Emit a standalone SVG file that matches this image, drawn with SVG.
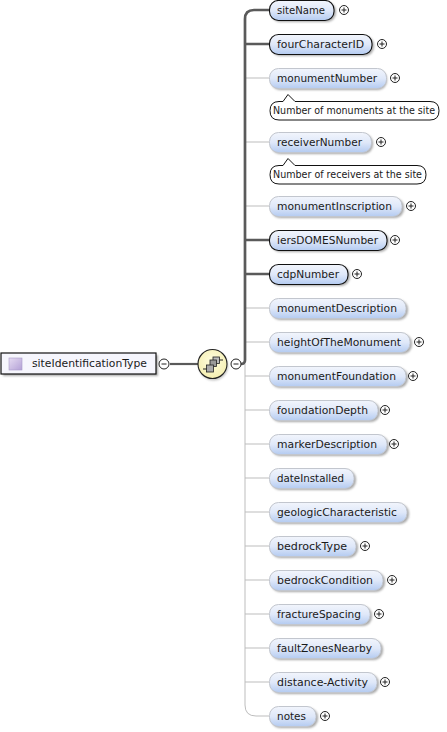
<svg xmlns="http://www.w3.org/2000/svg" width="447" height="732" viewBox="0 0 447 732">
<style>
text{font-family:"DejaVu Sans","Liberation Sans",sans-serif;font-size:11px;fill:#1a1a1a}
.req,.opt{fill:url(#blue)}
.req{stroke:#111;stroke-width:1.1}
.opt{stroke:#c2c6ce;stroke-width:1}
.sh{fill:#6f6f6f;opacity:.6;filter:url(#blur)}
.thin{fill:none;stroke:#bdbdbd;stroke-width:1}
.thick{fill:none;stroke:#5a5a5a;stroke-width:2.7}
.pm circle{fill:#fff;stroke:#222;stroke-width:1}
.pm path{stroke:#222;stroke-width:1;fill:none}
.note{fill:#fff;stroke:#111;stroke-width:1}
</style>
<defs>
<linearGradient id="blue" x1="0" y1="0" x2="0" y2="1"><stop offset="0" stop-color="#f2f5fc"/><stop offset="0.5" stop-color="#dfe8f9"/><stop offset="1" stop-color="#b4cbf1"/></linearGradient>
<linearGradient id="pur" x1="0" y1="0" x2="1" y2="1"><stop offset="0" stop-color="#e6dcf2"/><stop offset="1" stop-color="#b3a0d6"/></linearGradient>
<radialGradient id="yel" cx="0.5" cy="0.4" r="0.6"><stop offset="0" stop-color="#fffde0"/><stop offset="1" stop-color="#f4eeb0"/></radialGradient>
<filter id="blur" x="-10%" y="-30%" width="120%" height="160%"><feGaussianBlur stdDeviation="1"/></filter>
<g id="plus" class="pm"><circle r="4.5"/><path d="M-2.500 0H2.500M0 -2.500V2.500"/></g>
<g id="minus" class="pm"><circle r="5"/><path d="M-2.500 0H2.500"/></g>
</defs>

<g id="connectors">
<path class="thin" d="M245 364V705Q245 716 256 716H269M245 308H269M245 342H269M245 376H269M245 410H269M245 444H269M245 478H269M245 512H269M245 546H269M245 580H269M245 614H269M245 648H269M245 682H269M245 78H269M245 142H269M245 206H269"/>
<path class="thick" d="M269 10H254Q245 10 245 19V360Q245 364 241 364"/>
<path class="thick" d="M245 44H269M245 240H269M245 274H269"/>
<path d="M170 364H198" fill="none" stroke="#5a5a5a" stroke-width="2.2"/>
</g>

<g id="siteIdentificationType">
<rect class="sh" x="3" y="355" width="155" height="21"/>
<rect x="1" y="353" width="155" height="21" fill="#f6f6fd" stroke="#111" stroke-width="1.2"/>
<rect x="9" y="358" width="13" height="12" fill="url(#pur)" stroke="#a99cc8" stroke-width="0.6"/>
<text x="32" y="367" textLength="115" lengthAdjust="spacingAndGlyphs">siteIdentificationType</text>
<use href="#minus" x="164" y="364"/>
</g>

<g id="sequence">
<circle cx="213.500" cy="366" r="14.500" fill="#888" opacity=".5" filter="url(#blur)"/>
<circle cx="212.500" cy="364" r="14.500" fill="url(#yel)" stroke="#222" stroke-width="1.1"/>
<path d="M203 369H207M219 360H223" stroke="#222" stroke-width="1" fill="none"/>
<rect x="213" y="357" width="6.500" height="6.500" fill="#bbb" stroke="#222" stroke-width="0.8"/>
<rect x="210" y="360" width="6.500" height="6.500" fill="#999" stroke="#222" stroke-width="0.8"/>
<rect x="206.500" y="365" width="7" height="7" fill="#aaa" stroke="#222" stroke-width="0.8"/>
<use href="#minus" x="236" y="364"/>
</g>

<g id="siteName"><rect class="sh" x="271" y="2" width="65" height="20" rx="9"/><rect class="req" x="269.500" y="0.500" width="64.500" height="20" rx="9"/><text x="277" y="14" textLength="48" lengthAdjust="spacingAndGlyphs">siteName</text><use href="#plus" x="344" y="10"/></g>
<g id="fourCharacterID"><rect class="sh" x="271" y="36" width="103" height="20" rx="9"/><rect class="req" x="269.500" y="34.500" width="102.500" height="20" rx="9"/><text x="277" y="48" textLength="87" lengthAdjust="spacingAndGlyphs">fourCharacterID</text><use href="#plus" x="382" y="44"/></g>
<g id="monumentNumber"><rect class="sh" x="271" y="70" width="116" height="20" rx="9"/><rect class="opt" x="269.500" y="68.500" width="117" height="20" rx="9"/><text x="277" y="82" textLength="100" lengthAdjust="spacingAndGlyphs">monumentNumber</text><use href="#plus" x="395" y="78"/></g>
<g id="note1"><path class="note" d="M279 101.500H283L288 94.500L295 101.500H430Q439 101.500 439 110.750T430 120H279Q270 120 270 110.750T279 101.500Z"/><text x="273" y="114" textLength="162" lengthAdjust="spacingAndGlyphs">Number of monuments at the site</text></g>
<g id="receiverNumber"><rect class="sh" x="271" y="134" width="102" height="20" rx="9"/><rect class="opt" x="269.500" y="132.500" width="102" height="20" rx="9"/><text x="277" y="146" textLength="85" lengthAdjust="spacingAndGlyphs">receiverNumber</text><use href="#plus" x="381" y="142"/></g>
<g id="note2"><path class="note" d="M279 165.500H283L288 158.500L295 165.500H417Q426 165.500 426 174.750T417 184H279Q270 184 270 174.750T279 165.500Z"/><text x="273" y="178" textLength="149" lengthAdjust="spacingAndGlyphs">Number of receivers at the site</text></g>
<g id="monumentInscription"><rect class="sh" x="271" y="198" width="133" height="20" rx="9"/><rect class="opt" x="269.500" y="196.500" width="132.500" height="20" rx="9"/><text x="277" y="210" textLength="115" lengthAdjust="spacingAndGlyphs">monumentInscription</text><use href="#plus" x="411" y="206"/></g>
<g id="iersDOMESNumber"><rect class="sh" x="271" y="232" width="118" height="20" rx="9"/><rect class="req" x="269.500" y="230.500" width="117.500" height="20" rx="9"/><text x="277" y="244" textLength="101" lengthAdjust="spacingAndGlyphs">iersDOMESNumber</text><use href="#plus" x="395" y="240"/></g>
<g id="cdpNumber"><rect class="sh" x="271" y="266" width="79" height="20" rx="9"/><rect class="req" x="269.500" y="264.500" width="78.500" height="20" rx="9"/><text x="277" y="278" textLength="62" lengthAdjust="spacingAndGlyphs">cdpNumber</text><use href="#plus" x="357" y="274"/></g>
<g id="monumentDescription"><rect class="sh" x="271" y="300" width="137" height="20" rx="9"/><rect class="opt" x="269.500" y="298.500" width="136.500" height="20" rx="9"/><text x="277" y="312" textLength="120" lengthAdjust="spacingAndGlyphs">monumentDescription</text></g>
<g id="heightOfTheMonument"><rect class="sh" x="271" y="334" width="141" height="20" rx="9"/><rect class="opt" x="269.500" y="332.500" width="140.500" height="20" rx="9"/><text x="277" y="346" textLength="124" lengthAdjust="spacingAndGlyphs">heightOfTheMonument</text><use href="#plus" x="419" y="342"/></g>
<g id="monumentFoundation"><rect class="sh" x="271" y="368" width="137" height="20" rx="9"/><rect class="opt" x="269.500" y="366.500" width="136.500" height="20" rx="9"/><text x="277" y="380" textLength="119" lengthAdjust="spacingAndGlyphs">monumentFoundation</text><use href="#plus" x="413" y="376"/></g>
<g id="foundationDepth"><rect class="sh" x="271" y="402" width="109" height="20" rx="9"/><rect class="opt" x="269.500" y="400.500" width="108.500" height="20" rx="9"/><text x="277" y="414" textLength="91" lengthAdjust="spacingAndGlyphs">foundationDepth</text><use href="#plus" x="385" y="410"/></g>
<g id="markerDescription"><rect class="sh" x="271" y="436" width="118" height="20" rx="9"/><rect class="opt" x="269.500" y="434.500" width="117.500" height="20" rx="9"/><text x="277" y="448" textLength="100" lengthAdjust="spacingAndGlyphs">markerDescription</text><use href="#plus" x="394" y="444"/></g>
<g id="dateInstalled"><rect class="sh" x="271" y="470" width="85" height="20" rx="9"/><rect class="opt" x="269.500" y="468.500" width="84.500" height="20" rx="9"/><text x="277" y="482" textLength="67" lengthAdjust="spacingAndGlyphs">dateInstalled</text></g>
<g id="geologicCharacteristic"><rect class="sh" x="271" y="504" width="138" height="20" rx="9"/><rect class="opt" x="269.500" y="502.500" width="137.500" height="20" rx="9"/><text x="277" y="516" textLength="120" lengthAdjust="spacingAndGlyphs">geologicCharacteristic</text></g>
<g id="bedrockType"><rect class="sh" x="271" y="538" width="87" height="20" rx="9"/><rect class="opt" x="269.500" y="536.500" width="86.500" height="20" rx="9"/><text x="277" y="550" textLength="70" lengthAdjust="spacingAndGlyphs">bedrockType</text><use href="#plus" x="365" y="546"/></g>
<g id="bedrockCondition"><rect class="sh" x="271" y="572" width="114" height="20" rx="9"/><rect class="opt" x="269.500" y="570.500" width="113.500" height="20" rx="9"/><text x="277" y="584" textLength="96" lengthAdjust="spacingAndGlyphs">bedrockCondition</text><use href="#plus" x="392" y="580"/></g>
<g id="fractureSpacing"><rect class="sh" x="271" y="606" width="101" height="20" rx="9"/><rect class="opt" x="269.500" y="604.500" width="100.500" height="20" rx="9"/><text x="277" y="618" textLength="84" lengthAdjust="spacingAndGlyphs">fractureSpacing</text><use href="#plus" x="379" y="614"/></g>
<g id="faultZonesNearby"><rect class="sh" x="271" y="640" width="112" height="20" rx="9"/><rect class="opt" x="269.500" y="638.500" width="111.500" height="20" rx="9"/><text x="277" y="652" textLength="95" lengthAdjust="spacingAndGlyphs">faultZonesNearby</text></g>
<g id="distance-Activity"><rect class="sh" x="271" y="674" width="108" height="20" rx="9"/><rect class="opt" x="269.500" y="672.500" width="107.500" height="20" rx="9"/><text x="277" y="686" textLength="91" lengthAdjust="spacingAndGlyphs">distance-Activity</text><use href="#plus" x="385" y="682"/></g>
<g id="notes"><rect class="sh" x="271" y="708" width="47" height="20" rx="9"/><rect class="opt" x="269.500" y="706.500" width="46.500" height="20" rx="9"/><text x="277" y="720" textLength="29" lengthAdjust="spacingAndGlyphs">notes</text><use href="#plus" x="325" y="716"/></g>
</svg>
